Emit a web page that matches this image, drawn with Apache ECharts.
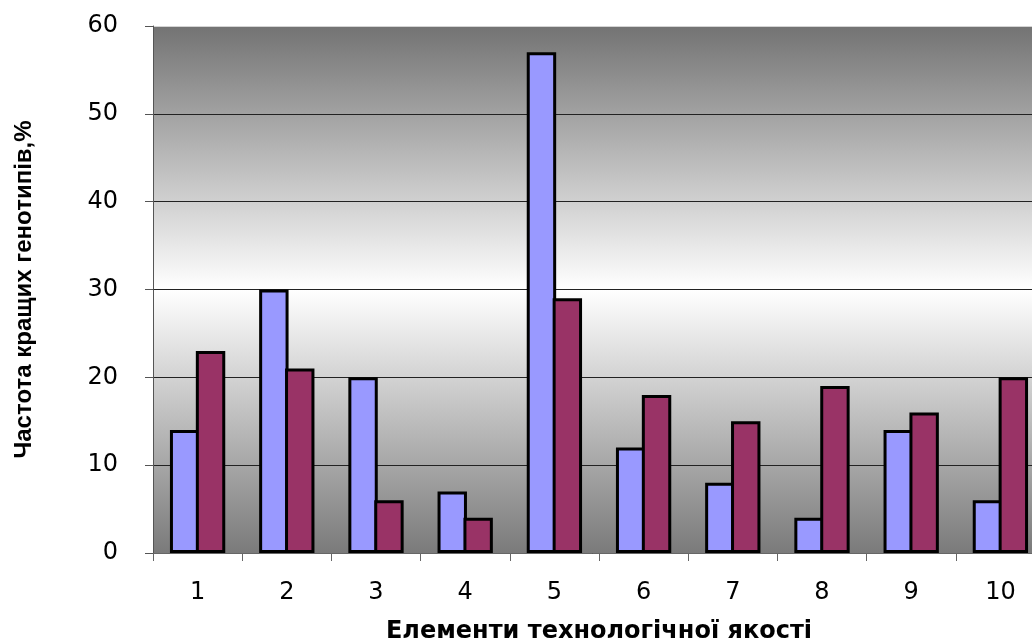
<!DOCTYPE html>
<html>
<head>
<meta charset="utf-8">
<script src="https://cdn.jsdelivr.net/npm/echarts@6/dist/echarts.min.js"></script>
<style>
  html, body { margin: 0; padding: 0; background: #fff; }
  #chart { width: 1032px; height: 641px; }
</style>
</head>
<body>
<div id="chart"></div>
<script>
// Technological quality elements
const categories = ['1', '2', '3', '4', '5', '6', '7', '8', '9', '10'];
// Frequency of the best genotypes, %
const seriesA = [14, 30, 20, 7, 57, 12, 8, 4, 14, 6];
const seriesB = [23, 21, 6, 4, 29, 18, 15, 19, 16, 20];
const yTicks = { min: 0, max: 60, interval: 10 };

const xTitle = 'Елементи технологічної якості';
const yTitle = 'Частота кращих генотипів,%';

const chart = echarts.init(document.getElementById('chart'), null, { renderer: 'canvas' });

const barBorder = { borderColor: '#000', borderWidth: 3 };

chart.setOption({
  animation: false,
  grid: {
    left: 153, right: -13, top: 26, bottom: 88,
    outerBoundsMode: 'none',
    containLabel: false,
    show: true,
    borderWidth: 0,
    backgroundColor: new echarts.graphic.LinearGradient(0, 0, 0, 1, [
      { offset: 0, color: '#737373' },
      { offset: 0.5, color: '#ffffff' },
      { offset: 1, color: '#7a7a7a' }
    ])
  },
  xAxis: {
    type: 'category',
    data: categories,
    name: xTitle,
    nameLocation: 'middle',
    nameGap: 67,
    nameTextStyle: { fontFamily: 'DejaVu Sans', fontWeight: 'bold', fontSize: 24, color: '#000' },
    axisLine: { lineStyle: { color: '#666', width: 1 } },
    axisTick: { show: true, length: 8, lineStyle: { color: '#666' }, alignWithLabel: false },
    axisLabel: { fontFamily: 'DejaVu Sans', fontSize: 24, color: '#000', margin: 28 },
    splitLine: { show: false }
  },
  yAxis: {
    type: 'value',
    min: yTicks.min, max: yTicks.max, interval: yTicks.interval,
    name: yTitle,
    nameLocation: 'middle',
    nameRotate: 90,
    nameGap: 117,
    nameTextStyle: { fontFamily: 'Liberation Sans', fontWeight: 'bold', fontSize: 24, color: '#000' },
    axisLine: { show: true, lineStyle: { color: '#555', width: 1 } },
    axisTick: { show: true, length: 8, lineStyle: { color: '#555' } },
    axisLabel: { fontFamily: 'DejaVu Sans', fontSize: 24, color: '#000', margin: 35 },
    splitLine: {
      show: true,
      lineStyle: { color: ['#222', '#222', '#222', '#222', '#222', '#222', '#d4d4d4'], width: 1 }
    }
  },
  series: [
    {
      type: 'bar', data: seriesA,
      barGap: '-12%', barCategoryGap: '38%',
      itemStyle: Object.assign({ color: '#9999FF' }, barBorder)
    },
    {
      type: 'bar', data: seriesB,
      barGap: '-12%', barCategoryGap: '38%',
      itemStyle: Object.assign({ color: '#993366' }, barBorder)
    }
  ]
});
</script>
</body>
</html>
